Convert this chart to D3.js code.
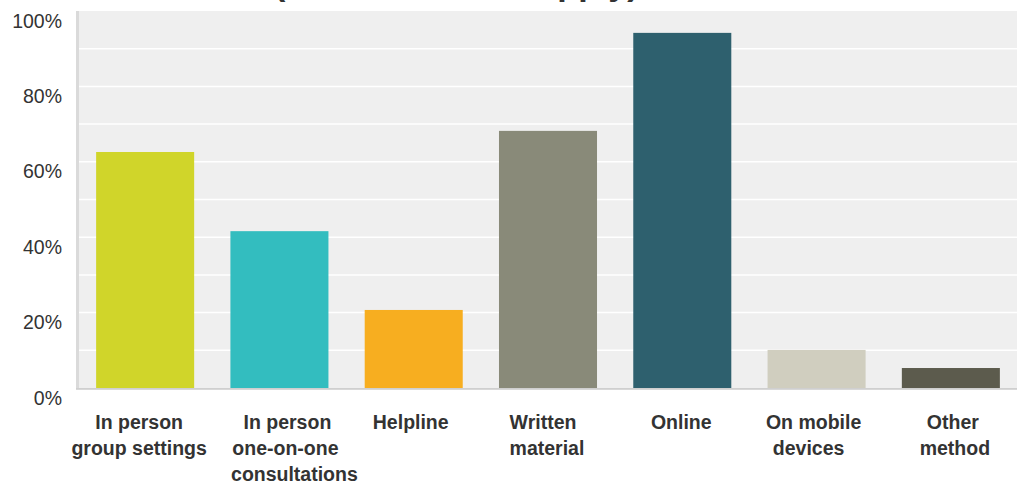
<!DOCTYPE html>
<html>
<head>
<meta charset="utf-8">
<script src="https://cdn.jsdelivr.net/npm/d3@7"></script>
<style>
  html, body { margin: 0; padding: 0; background: #fff; }
  svg { display: block; }
  text { font-family: "Liberation Sans", Arial, Helvetica, sans-serif; fill: #333; }
</style>
</head>
<body>
<svg id="chart" width="1017" height="483"></svg>
<script>
// ---- data ----
const titleText = "(Choose all that apply)";
const categories = [
  ["In person", "group settings"],
  ["In person", "one-on-one", "consultations"],
  ["Helpline"],
  ["Written", "material"],
  ["Online"],
  ["On mobile", "devices"],
  ["Other", "method"]
];
const values = [62.6, 41.6, 20.7, 68.2, 94.2, 10.1, 5.3];
const barColors = ["#d0d52a", "#33bdbf", "#f7ae20", "#898a79", "#2e606e", "#d0cebf", "#5c5b4d"];
const yTickValues = [0, 20, 40, 60, 80, 100];
const gridValues = [10, 20, 30, 40, 50, 60, 70, 80, 90];

// ---- layout tweaks (per-line horizontal nudges of category labels, px) ----
const labelNudge = [[-6, -6], [8, 6, 15], [-3], [-5, -1], [-1], [-3, -8], [2, 4]];

// ---- layout ----
const W = 1017, H = 483;
const plotLeft = 78, plotRight = 1018, plotTop = 11, plotBottom = 388;
const svg = d3.select("#chart");

const keys = categories.map(c => c.join(" "));
const x = d3.scaleBand().domain(keys).range([plotLeft, plotRight])
  .paddingInner(0.27).paddingOuter(0.135);
const y = d3.scaleLinear().domain([0, 100]).range([plotBottom, plotTop]);

// title (mostly cut off at top)
svg.append("text")
  .attr("x", 274).attr("y", -5)
  .attr("font-size", 34).attr("font-weight", "bold")
  .text(titleText);

// plot background
svg.append("rect")
  .attr("x", plotLeft).attr("y", plotTop)
  .attr("width", W - plotLeft).attr("height", plotBottom - plotTop)
  .attr("fill", "#efefef");

// gridlines
svg.append("g").selectAll("line").data(gridValues).join("line")
  .attr("x1", plotLeft + 1).attr("x2", W)
  .attr("y1", d => y(d)).attr("y2", d => y(d))
  .attr("stroke", "#fff").attr("stroke-width", 1.5);

// bars
svg.append("g").selectAll("rect").data(values).join("rect")
  .attr("x", (d, i) => x(keys[i]))
  .attr("width", x.bandwidth())
  .attr("y", d => y(d))
  .attr("height", d => y(0) - y(d))
  .attr("fill", (d, i) => barColors[i]);

// left border
svg.append("rect")
  .attr("x", 76).attr("y", plotTop)
  .attr("width", 3).attr("height", plotBottom - plotTop + 1)
  .attr("fill", "#dadada");
// bottom border
svg.append("rect")
  .attr("x", 76).attr("y", plotBottom)
  .attr("width", W - 76).attr("height", 1.8)
  .attr("fill", "#cfcfcf");

// y axis labels
const yAxis = d3.axisLeft(y).tickValues(yTickValues).tickFormat(d => d + "%").tickSize(0).tickPadding(0);
const gy = svg.append("g").attr("transform", "translate(62,0)").call(yAxis);
gy.select(".domain").remove();
gy.selectAll("text")
  .attr("font-size", 19.5)
  .attr("font-family", '"Liberation Sans", Arial, Helvetica, sans-serif')
  .attr("fill", "#333")
  .attr("dy", 0).attr("y", 16).attr("x", 0);

// x axis labels
const gx = svg.append("g");
categories.forEach((lines, i) => {
  const cx = x(keys[i]) + x.bandwidth() / 2;
  const t = gx.append("text")
    .attr("text-anchor", "middle")
    .attr("font-size", 19.5).attr("font-weight", "bold");
  lines.forEach((ln, j) => {
    t.append("tspan").attr("x", cx + labelNudge[i][j]).attr("y", 429 + j * 26).text(ln);
  });
});
</script>
</body>
</html>
